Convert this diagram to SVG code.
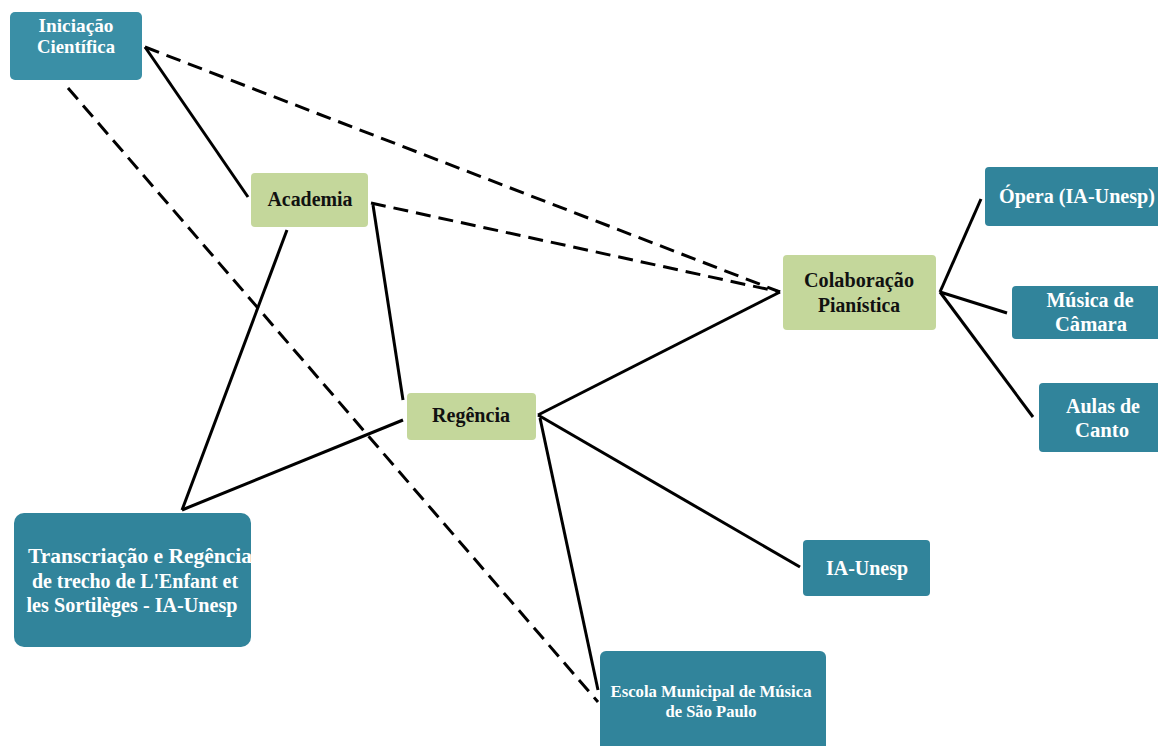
<svg xmlns="http://www.w3.org/2000/svg" width="1158" height="746" viewBox="0 0 1158 746">
<style>
.b{fill:#31849b}
.g{fill:#c4d79b}
.tw{font-family:"Liberation Serif","Times New Roman",serif;font-weight:bold;fill:#fff;text-anchor:middle}
.tk{font-family:"Liberation Serif","Times New Roman",serif;font-weight:bold;fill:#111;text-anchor:middle}
.s{stroke:#000;stroke-width:3;fill:none}
.d{stroke:#000;stroke-width:3;fill:none;stroke-dasharray:15,8}
</style>
<rect width="1158" height="746" fill="#fff"/>
<g id="connectors">
<line class="s" x1="145" y1="47" x2="248" y2="197"/>
<line class="d" x1="145" y1="47" x2="780" y2="292"/>
<line class="d" x1="68" y1="88" x2="598" y2="702" stroke-width="4" stroke-dasharray="14,8"/>
<line class="d" x1="371" y1="203" x2="780" y2="292"/>
<line class="s" x1="287" y1="230" x2="182" y2="510"/>
<line class="s" x1="373" y1="205" x2="403" y2="400"/>
<line class="s" x1="182" y1="510" x2="403" y2="420"/>
<line class="s" x1="538" y1="415" x2="780" y2="292"/>
<line class="s" x1="538" y1="415" x2="800" y2="567"/>
<line class="s" x1="540" y1="418" x2="598" y2="690"/>
<line class="s" x1="940" y1="292" x2="981" y2="199"/>
<line class="s" x1="940" y1="292" x2="1007" y2="313"/>
<line class="s" x1="940" y1="292" x2="1033" y2="417"/>
</g>
<g id="iniciacao">
<rect x="10" y="12" width="132" height="68" rx="5" fill="#3a8fa6"/>
<text class="tw" font-size="19" x="76" y="32" textLength="75" lengthAdjust="spacingAndGlyphs">Iniciação</text>
<text class="tw" font-size="19" x="76" y="53" textLength="78" lengthAdjust="spacingAndGlyphs">Científica</text>
</g>
<g id="academia">
<rect class="g" x="251" y="173" width="117" height="54" rx="4"/>
<text class="tk" font-size="20" x="310" y="206" textLength="85" lengthAdjust="spacingAndGlyphs">Academia</text>
</g>
<g id="colaboracao">
<rect class="g" x="783" y="255" width="153" height="75" rx="4"/>
<text class="tk" font-size="20" x="859" y="287" textLength="110" lengthAdjust="spacingAndGlyphs">Colaboração</text>
<text class="tk" font-size="20" x="859" y="312" textLength="82" lengthAdjust="spacingAndGlyphs">Pianística</text>
</g>
<g id="regencia">
<rect class="g" x="407" y="393" width="129" height="47" rx="4"/>
<text class="tk" font-size="20" x="471" y="422" textLength="78" lengthAdjust="spacingAndGlyphs">Regência</text>
</g>
<g id="opera">
<rect class="b" x="985" y="167" width="180" height="59" rx="4"/>
<text class="tw" font-size="20" x="1077" y="203" textLength="156" lengthAdjust="spacingAndGlyphs">Ópera (IA-Unesp)</text>
</g>
<g id="musica">
<rect class="b" x="1012" y="286" width="155" height="53" rx="4"/>
<text class="tw" font-size="20" x="1090" y="307" textLength="87" lengthAdjust="spacingAndGlyphs">Música de</text>
<text class="tw" font-size="20" x="1091" y="331" textLength="72" lengthAdjust="spacingAndGlyphs">Câmara</text>
</g>
<g id="aulas">
<rect class="b" x="1039" y="383" width="130" height="69" rx="4"/>
<text class="tw" font-size="20" x="1103" y="413" textLength="74" lengthAdjust="spacingAndGlyphs">Aulas de</text>
<text class="tw" font-size="20" x="1102" y="437" textLength="54" lengthAdjust="spacingAndGlyphs">Canto</text>
</g>
<g id="iaunesp">
<rect class="b" x="803" y="540" width="127" height="56" rx="4"/>
<text class="tw" font-size="20" x="867" y="575" textLength="82" lengthAdjust="spacingAndGlyphs">IA-Unesp</text>
</g>
<g id="transcriacao">
<rect class="b" x="14" y="513" width="237" height="134" rx="10"/>
<text class="tw" font-size="21" x="140" y="563" textLength="224" lengthAdjust="spacingAndGlyphs">Transcriação e Regência</text>
<text class="tw" font-size="21" x="135" y="588" textLength="206" lengthAdjust="spacingAndGlyphs">de trecho de L'Enfant et</text>
<text class="tw" font-size="21" x="132" y="612" textLength="211" lengthAdjust="spacingAndGlyphs">les Sortilèges - IA-Unesp</text>
</g>
<g id="escola">
<rect class="b" x="600" y="651" width="226" height="110" rx="6"/>
<text class="tw" font-size="17" x="711" y="697" textLength="201" lengthAdjust="spacingAndGlyphs">Escola Municipal de Música</text>
<text class="tw" font-size="17" x="711" y="717" textLength="91" lengthAdjust="spacingAndGlyphs">de São Paulo</text>
</g>
</svg>
